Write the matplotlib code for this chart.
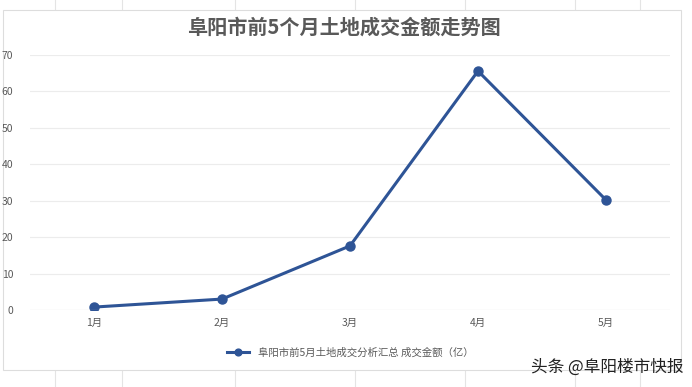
import matplotlib.pyplot as plt
from matplotlib.patches import Rectangle

plt.rcParams['font.family'] = ['Noto Sans CJK SC', 'DejaVu Sans']

months = ['1月', '2月', '3月', '4月', '5月']
amount = [0.8, 3.0, 17.6, 65.6, 30.2]
yticks = [0, 10, 20, 30, 40, 50, 60, 70]

fig = plt.figure(figsize=(6.92, 3.87), dpi=100)

# faint spreadsheet cell lines behind the chart
for x in [55, 122, 235, 355, 465, 575, 640]:
    fig.add_artist(plt.Line2D([x / 692, x / 692], [0, 1], color='#e4e4e4', lw=0.8, zorder=0))
fig.add_artist(Rectangle((3 / 692, 17 / 387), 678 / 692, 360 / 387, transform=fig.transFigure,
                         facecolor='white', edgecolor='#dddddd', lw=0.8, zorder=1))

ax = fig.add_axes([30 / 692, 77 / 387, 640 / 692, 255 / 387])
ax.set_zorder(2)
ax.patch.set_visible(False)

x = range(len(months))
ax.plot(x, amount, color='#2e5496', lw=2.2, marker='o', ms=6.5,
        label='阜阳市前5月土地成交分析汇总 成交金额（亿）')

ax.set_xlim(-0.5, len(months) - 0.5)
ax.set_ylim(0, 70)
ax.set_yticks(yticks)
ax.set_xticks(list(x))
ax.set_xticklabels(months)
ax.grid(axis='y', color='#ececec', lw=0.8)
ax.set_axisbelow(True)
ax.tick_params(length=0, labelsize=7.5, colors='#595959')
ax.tick_params(axis='y', pad=12)
ax.tick_params(axis='x', pad=6)
for s in ax.spines.values():
    s.set_visible(False)
ax.axhline(0, color='#d9d9d9', lw=0.8)

fig.text(0.497, 360 / 387, '阜阳市前5个月土地成交金额走势图', ha='center', va='center',
         fontsize=14.5, fontweight='bold', color='#595959')

ax.legend(loc='upper center', bbox_to_anchor=(0.5, -0.11), frameon=False, fontsize=7.5,
          labelcolor='#595959', handlelength=2.2, markerscale=0.75)

fig.text(0.988, 20 / 387, '头条 @阜阳楼市快报', ha='right', va='center', fontsize=12,
         color='#222222', zorder=5)

fig.savefig('out.png')
